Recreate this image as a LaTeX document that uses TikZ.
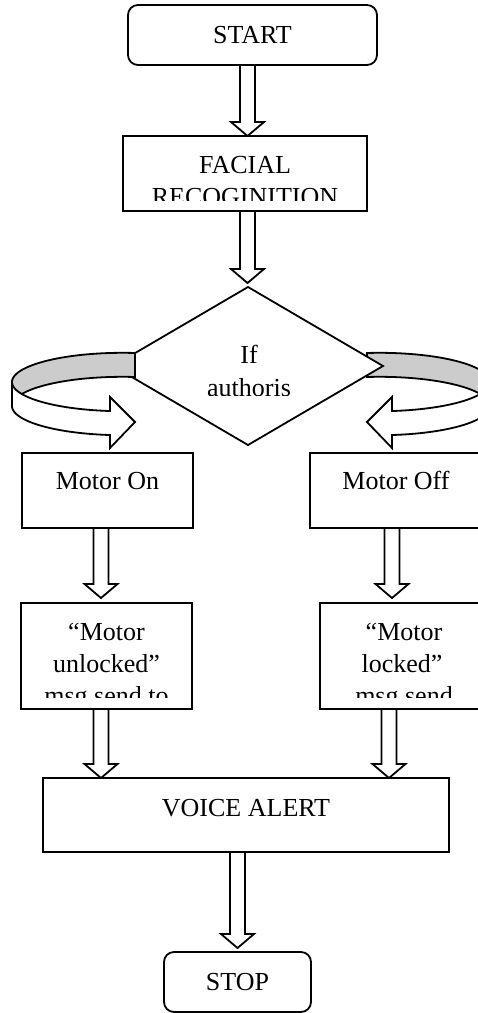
\documentclass[tikz,border=0pt]{standalone}
\usepackage{fontspec}
\setmainfont{Liberation Serif}
\usetikzlibrary{shapes.geometric,calc}
\tikzset{
  lw/.style={line width=1.8pt},
  box/.style={draw, lw, fill=white, inner sep=0pt, outer sep=0pt},
  roundbox/.style={box, rounded corners=10pt, font=\fontsize{26}{32}\selectfont},
  txt/.style={anchor=base, inner sep=0pt, font=\fontsize{26}{32}\selectfont},
  blockarr/.style={draw, lw, fill=white, line join=miter},
  band/.style={draw, lw, fill=gray!40, line join=miter},
  ribbon/.style={draw, lw, fill=white, line join=miter},
}
% #1 x of arrow axis, #2 from anchor, #3 to anchor, #4 gap before target
\newcommand\myBlockArrow[4]{%
  \draw[blockarr] let \p1=(#2), \p2=(#3), \p3=(#1,0) in
    (\x3-7.5pt,\y1) -- (\x3-7.5pt,\y2+#4pt+14pt) -- (\x3-16.5pt,\y2+#4pt+14pt)
    -- (\x3,\y2+#4pt) -- (\x3+16.5pt,\y2+#4pt+14pt) -- (\x3+7.5pt,\y2+#4pt+14pt)
    -- (\x3+7.5pt,\y1) -- cycle;}
\newcommand\myCurvedArrow{%
  \path[band] plot[domain=276.5:180, samples=50] ({122.5+110.5*cos(\x)},{382+29.2*sin(\x)})
    -- plot[domain=180:276.5, samples=50] ({122.5+110.5*cos(\x)},{406+29.2*sin(\x)}) -- cycle;
  \path[ribbon] plot[domain=180:96.5, samples=50] ({122.5+110.5*cos(\x)},{382+29.2*sin(\x)})
    -- (110,397) -- (135,422) -- (110,448)
    -- plot[domain=96.5:180, samples=50] ({122.5+110.5*cos(\x)},{406+29.2*sin(\x)}) -- cycle;}
\begin{document}
\begin{tikzpicture}[x=1pt, y=-1pt]
\useasboundingbox (0,0) rectangle (478,1013);

% START and FACIAL RECOGNITION
\node[roundbox, minimum width=249pt, minimum height=60pt] (start) at (252.5,35) {START};
\node[box, minimum width=244pt, minimum height=75pt] (fac) at (245,173.5) {};
\node[txt] at (245,173) {FACIAL};
\begin{scope}
  \clip (123,136) rectangle (367,200);
  \node[txt] at (245,205) {RECOGINITION};
\end{scope}

\myBlockArrow{247.5}{start.south}{fac.north}{0}

% right loop arrow (behind the decision)
\begin{scope}[xshift=502pt, xscale=-1]
  \myCurvedArrow
\end{scope}

% decision
\node[diamond, draw, lw, fill=white, minimum width=270pt, minimum height=158pt,
      inner sep=0pt, outer sep=0pt] (dec) at (248,366) {};
\node[txt] at (249,363) {If};
\begin{scope}
  \clip (170,300) rectangle (330,395);
  \node[txt] at (249,396) {authoris};
\end{scope}

\myBlockArrow{247.5}{fac.south}{dec.north}{4}

% left loop arrow (in front of the decision)
\myCurvedArrow

% Motor boxes
\node[box, minimum width=171pt, minimum height=75pt] (on) at (107.5,490.5) {};
\node[txt] at (107.5,489) {Motor On};
\node[box, minimum width=180pt, minimum height=75pt] (off) at (400,490.5) {};
\node[txt] at (396,489) {Motor Off};

\node[box, minimum width=171pt, minimum height=106pt] (unl) at (106.5,656) {};
\node[txt] at (106.5,640) {“Motor};
\node[txt] at (106.5,672) {unlocked”};
\begin{scope}
  \clip (21,603) rectangle (192,697);
  \node[txt] at (106.5,704) {msg send to};
\end{scope}

\node[box, minimum width=171pt, minimum height=106pt] (lck) at (405.5,656) {};
\node[txt] at (404,640) {“Motor};
\node[txt] at (402,672) {locked”};
\begin{scope}
  \clip (320,603) rectangle (491,697);
  \node[txt] at (404,704) {msg send};
\end{scope}

\myBlockArrow{101}{on.south}{unl.north}{5}
\myBlockArrow{392}{off.south}{lck.north}{5}

% voice alert and stop
\node[box, minimum width=406pt, minimum height=74pt] (voice) at (246,815) {};
\node[txt] at (246,816) {VOICE ALERT};

\myBlockArrow{101}{unl.south}{voice.north}{0}
\myBlockArrow{389}{lck.south}{voice.north}{0}

\node[roundbox, minimum width=147pt, minimum height=60pt] (stop) at (237.5,982) {STOP};
\myBlockArrow{237.5}{voice.south}{stop.north}{4}
\end{tikzpicture}
\end{document}
